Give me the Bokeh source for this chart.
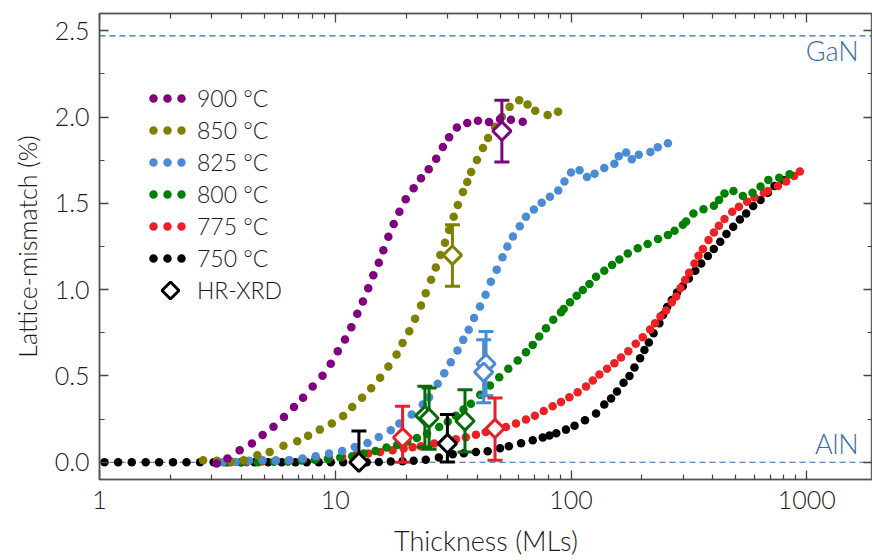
import math
from bokeh.plotting import figure
from bokeh.models import (Range1d, LogAxis, LinearAxis, FixedTicker, Span, Label,
                          Legend, LegendItem, PrintfTickFormatter, NumeralTickFormatter,
                          CustomJSTickFormatter)
from bokeh.embed import file_html
from bokeh.resources import INLINE

FONT = "Lato Light, Lato"

# ---------------- data ----------------
t900 = [3.14, 3.49, 3.93, 4.43, 4.92, 5.47, 6.06, 6.68, 7.3, 8.02, 8.83, 9.57, 10.25, 11.0, 11.7,
        12.4, 13.1, 13.8, 14.5, 15.3, 16.0, 16.8, 17.7, 18.7, 19.9, 21.5, 23.1, 24.9, 26.8, 28.6,
        30.4, 32.8, 36.3, 40.3, 44.9, 50.0, 55.6, 62.4]
m900 = [-0.007, 0.021, 0.069, 0.108, 0.158, 0.206, 0.262, 0.32, 0.374, 0.439, 0.501, 0.571, 0.643,
        0.711, 0.782, 0.86, 0.932, 1.008, 1.083, 1.156, 1.228, 1.306, 1.38, 1.451, 1.524, 1.588,
        1.646, 1.698, 1.759, 1.827, 1.883, 1.94, 1.965, 1.979, 1.971, 1.988, 1.984, 1.973]

t850 = [2.75, 3.15, 3.6, 4.09, 4.67, 5.27, 6.03, 6.9, 7.67, 8.6, 9.67, 10.8, 11.8, 13.0, 14.2, 15.5,
        16.8, 18.2, 19.3, 20.6, 21.8, 23.1, 24.2, 25.5, 26.7, 27.9, 29.2, 30.4, 31.8, 33.1, 34.8,
        36.3, 37.7, 39.9, 42.3, 44.5, 47.6, 50.9, 54.9, 60.3, 65.4, 70.5, 79.6, 88.1]
m850 = [0.012, 0.008, 0.006, 0.012, 0.04, 0.06, 0.095, 0.121, 0.154, 0.189, 0.224, 0.268, 0.32,
        0.374, 0.429, 0.49, 0.555, 0.624, 0.691, 0.759, 0.831, 0.908, 0.979, 1.058, 1.129, 1.201,
        1.272, 1.345, 1.422, 1.49, 1.566, 1.624, 1.682, 1.751, 1.821, 1.879, 1.944, 2.002, 2.059,
        2.097, 2.073, 2.036, 2.012, 2.031]

t825 = [3.32, 3.78, 4.31, 4.91, 5.59, 6.37, 7.26, 8.26, 9.41, 10.7, 12.1, 13.7, 15.3, 17.2, 18.7,
        21.1, 23.5, 25.0, 27.2, 29.0, 30.9, 33.0, 34.9, 36.8, 38.8, 41.1, 43.4, 45.7, 48.4, 51.2,
        53.7, 56.7, 60.6, 64.4, 69.6, 75.1, 81.4, 88.3, 93.8, 100.0, 108.7, 116.9, 125.9, 138.4,
        152.7, 159.4, 171.3, 181.1, 193.8, 217.1, 233.3, 257.6]
m825 = [0.0, 0.002, 0.008, 0.012, 0.008, 0.012, 0.021, 0.035, 0.05, 0.065, 0.088, 0.112, 0.146,
        0.185, 0.225, 0.277, 0.335, 0.377, 0.455, 0.516, 0.58, 0.647, 0.709, 0.767, 0.836, 0.903,
        0.971, 1.046, 1.116, 1.188, 1.25, 1.308, 1.368, 1.422, 1.464, 1.503, 1.538, 1.575, 1.626,
        1.679, 1.692, 1.653, 1.671, 1.705, 1.73, 1.773, 1.794, 1.755, 1.782, 1.798, 1.825, 1.848]

t800 = [3.4, 4.0, 4.7, 5.5, 6.3, 7.2, 8.2, 9.3, 10.5, 11.8, 13.2, 14.8, 16.5, 18.3, 20.2, 22.2,
        24.5, 27.6, 30.0, 32.5, 35.0, 37.6, 41.2, 45.3, 49.6, 54.2, 59.4, 64.4, 68.8, 73.3, 78.3,
        84.1, 90.7, 93.1, 99.1, 105.7, 112.2, 119.7, 127.7, 138.4, 149.3, 160.4, 174.1, 191.9,
        211.3, 233.9, 257.6, 274.8, 298.0, 307.8, 330.4, 364.7, 403.6, 424.6, 447.7, 488.7,
        535.8, 588.8, 636.8, 687.1, 764.0, 845.0]
m800 = [0.0, 0.0, 0.0, 0.003, 0.005, 0.01, 0.015, 0.019, 0.027, 0.035, 0.05, 0.065, 0.085, 0.1,
        0.12, 0.14, 0.165, 0.204, 0.235, 0.27, 0.305, 0.339, 0.391, 0.445, 0.493, 0.542, 0.59,
        0.638, 0.68, 0.728, 0.776, 0.825, 0.869, 0.888, 0.927, 0.965, 0.998, 1.033, 1.075, 1.11,
        1.143, 1.175, 1.21, 1.24, 1.264, 1.293, 1.316, 1.341, 1.376, 1.395, 1.441, 1.466, 1.486,
        1.52, 1.557, 1.571, 1.542, 1.561, 1.597, 1.636, 1.649, 1.669]

t775 = [3.6, 4.2, 4.9, 5.6, 6.4, 7.3, 8.3, 9.4, 10.7, 12.2, 13.8, 15.5, 17.5, 19.5, 21.3, 23.1,
        26.3, 29.5, 32.5, 35.8, 39.5, 43.5, 48.0, 53.0, 58.4, 64.4, 70.3, 76.6, 83.6, 90.7, 98.4,
        106.7, 115.8, 123.7, 131.9, 142.2, 152.7, 163.0, 175.0, 188.2, 201.5, 216.4, 227.3,
        239.5, 253.0, 267.7, 279.3, 291.3, 304.8, 317.0, 334.0, 347.4, 362.6, 382.9, 403.6,
        423.8, 447.7, 482.9, 515.6, 558.7, 600.0, 658.0, 684.0, 755.0, 818.0, 883.0, 935.0]
m775 = [0.0, 0.0, 0.005, 0.01, 0.01, 0.015, 0.02, 0.025, 0.03, 0.04, 0.05, 0.06, 0.07, 0.08, 0.087,
        0.092, 0.108, 0.12, 0.133, 0.145, 0.16, 0.175, 0.19, 0.204, 0.224, 0.247, 0.27, 0.297,
        0.324, 0.349, 0.377, 0.406, 0.439, 0.474, 0.509, 0.542, 0.574, 0.607, 0.643, 0.686,
        0.724, 0.769, 0.805, 0.844, 0.879, 0.927, 0.961, 1.01, 1.056, 1.098, 1.152, 1.197, 1.235,
        1.287, 1.331, 1.37, 1.409, 1.451, 1.48, 1.51, 1.534, 1.562, 1.572, 1.601, 1.626, 1.659,
        1.684]

t750 = [1.05, 1.20, 1.37, 1.57, 1.79, 2.05, 2.34, 2.67, 3.05, 3.49, 3.98, 4.55, 5.20, 5.93, 6.78,
        7.57, 8.51, 9.57, 10.8, 12.1, 13.6, 15.3, 17.2, 19.3, 21.5, 24.2, 27.5, 31.5, 35.1, 39.5,
        44.3, 50.0, 54.5, 61.4, 68.8, 75.9, 81.0, 86.6, 95.2, 103.5, 114.6, 127.7, 138.4, 147.9,
        156.7, 167.0, 177.0, 185.8, 196.4, 204.8, 213.8, 223.9, 237.1, 245.6, 255.6, 267.7,
        281.8, 298.0, 316.0, 336.5, 356.6, 380.6, 403.3, 429.5, 456.4, 487.5, 520.3, 553.3,
        592.6, 636.8, 684.3, 729.7, 800.0]
m750 = [0.0, 0.0, 0.0, 0.0, 0.0, 0.0, 0.0, 0.0, 0.0, 0.0, 0.0, 0.0, 0.0, 0.0, 0.0,
        0.0, 0.0, 0.0, 0.0, 0.0, 0.0, 0.002, 0.004, 0.006, 0.008, 0.015, 0.027, 0.046, 0.052,
        0.06, 0.064, 0.081, 0.093, 0.11, 0.127, 0.143, 0.155, 0.168, 0.189, 0.211, 0.243, 0.282,
        0.335, 0.37, 0.41, 0.46, 0.50, 0.549, 0.603, 0.65, 0.694, 0.748, 0.805, 0.853, 0.90,
        0.94, 0.984, 1.02, 1.065, 1.11, 1.152, 1.195, 1.235, 1.277, 1.322, 1.364, 1.407, 1.441,
        1.484, 1.52, 1.562, 1.601, 1.634]

# HR-XRD points with error bars
xrd_t = [12.6, 19.3, 24.0, 25.0, 29.9, 35.5, 43.6, 42.6, 47.6, 31.4, 50.9]
xrd_m = [0.0, 0.143, 0.27, 0.255, 0.108, 0.239, 0.571, 0.522, 0.195, 1.2, 1.919]
xrd_lo = [0.0, 0.0, 0.088, 0.075, 0.002, 0.06, 0.385, 0.345, 0.012, 1.019, 1.74]
xrd_hi = [0.181, 0.324, 0.441, 0.43, 0.277, 0.42, 0.757, 0.71, 0.372, 1.376, 2.098]
xrd_series = ["750", "775", "800", "800", "750", "800", "825", "825", "775", "850", "900"]

legend_labels = ["900 °C", "850 °C", "825 °C", "800 °C", "775 °C", "750 °C"]
gan_mismatch = 2.47
aln_mismatch = 0.0

# ---------------- styles ----------------
dot_color = {"900": "#800080", "850": "#808000", "825": "#4a8bd5",
             "800": "#008000", "775": "#ee2024", "750": "#000000"}
bar_color = {"900": "#800080", "850": "#808000", "825": "#4a8bd5",
             "800": "#0a6a0a", "775": "#e8202a", "750": "#000000"}

p = figure(width=872, height=560, x_axis_type="log",
           x_range=Range1d(1, 1900), y_range=Range1d(-0.1, 2.6),
           output_backend="svg", toolbar_location=None,
           min_border_left=99, min_border_right=0, min_border_top=13, min_border_bottom=81,
           background_fill_color="white", border_fill_color="white",
           outline_line_color="#666666", outline_line_width=1.5)
p.grid.visible = False

for lvl in (gan_mismatch, aln_mismatch):
    p.add_layout(Span(location=lvl, dimension="width", line_color="#2f66a0",
                      line_dash="6 4", line_width=1.2, level="underlay"))

series = [("750", t750, m750), ("775", t775, m775), ("800", t800, m800),
          ("825", t825, m825), ("850", t850, m850), ("900", t900, m900)]
for key, tx, my in series:
    p.scatter(tx, my, size=8.5, fill_color=dot_color[key], line_color=None)

# error bars
for i in range(len(xrd_t)):
    c = bar_color[xrd_series[i]]
    p.segment(x0=[xrd_t[i]], y0=[xrd_lo[i]], x1=[xrd_t[i]], y1=[xrd_hi[i]],
              line_color=c, line_width=3)
    p.scatter([xrd_t[i], xrd_t[i]], [xrd_lo[i], xrd_hi[i]], marker="dash", size=15,
              line_color=c, line_width=3)
for i in range(len(xrd_t)):
    c = bar_color[xrd_series[i]]
    p.scatter([xrd_t[i]], [xrd_m[i]], marker="square", angle=math.pi / 4, size=13,
              line_color=c, line_width=3, fill_color="white")

# ---------------- axes ----------------
x_major = [1, 10, 100, 1000]
x_minor = [m * d for d in (1, 10, 100, 1000) for m in range(2, 10)]
y_major = [0.0, 0.5, 1.0, 1.5, 2.0, 2.5]
y_minor = [0.25, 0.75, 1.25, 1.75, 2.25]

def style(ax):
    ax.axis_line_color = "#555555"
    ax.axis_line_width = 1.5
    ax.major_tick_line_color = "#444444"
    ax.minor_tick_line_color = "#444444"
    ax.major_tick_line_width = 1.3
    ax.minor_tick_line_width = 1.2
    ax.major_tick_in = 9
    ax.major_tick_out = 0
    ax.minor_tick_in = 5
    ax.minor_tick_out = 0
    ax.major_label_text_font = FONT
    ax.major_label_text_font_size = "25px"
    ax.major_label_text_color = "#1a1a1a"
    ax.axis_label_text_font = FONT
    ax.axis_label_text_font_style = "normal"
    ax.axis_label_text_color = "#1a1a1a"

xa = p.xaxis[0]
xa.ticker = FixedTicker(ticks=x_major, minor_ticks=x_minor)
xa.formatter = NumeralTickFormatter(format="0")
style(xa)
xa.axis_label = "Thickness (MLs)"
xa.axis_label_text_font_size = "27px"
xa.major_label_standoff = 11
xa.axis_label_standoff = 12

ya = p.yaxis[0]
ya.ticker = FixedTicker(ticks=y_major, minor_ticks=y_minor)
ya.formatter = PrintfTickFormatter(format="%.1f")
style(ya)
ya.axis_label = "Lattice-mismatch (%)"
ya.axis_label_text_font_size = "25px"
ya.major_label_standoff = 10
ya.axis_label_standoff = 10

blank = CustomJSTickFormatter(code="return ''")
top = LogAxis(ticker=FixedTicker(ticks=x_major, minor_ticks=x_minor), formatter=blank)
style(top)
top.major_label_standoff = 0
p.add_layout(top, "above")
right = LinearAxis(ticker=FixedTicker(ticks=y_major, minor_ticks=y_minor), formatter=blank)
style(right)
right.major_label_standoff = 0
p.add_layout(right, "right")

# ---------------- labels ----------------
p.add_layout(Label(x=1660, y=2.386, text="GaN", text_align="right", text_baseline="middle",
                   text_font=FONT, text_font_size="27px", text_color="#3a6d9c"))
p.add_layout(Label(x=1660, y=0.11, text="AlN", text_align="right", text_baseline="middle",
                   text_font=FONT, text_font_size="27px", text_color="#3a6d9c"))

# ---------------- legend ----------------
nan = float("nan")
items = []
for lab, key in zip(legend_labels, ["900", "850", "825", "800", "775", "750"]):
    r = p.line(x=[nan], y=[nan], line_color=dot_color[key], line_width=8.5, line_dash="0 14",
               line_dash_offset=10, line_cap="round")
    items.append(LegendItem(label=lab, renderers=[r]))
rx = p.line(x=[nan], y=[nan], line_alpha=0)
items.append(LegendItem(label="HR-XRD", renderers=[rx]))
leg = Legend(items=items, location=(50, 175), orientation="vertical",
             glyph_width=38, glyph_height=26, label_height=26, spacing=4,
             label_standoff=10, padding=0, margin=0,
             border_line_color=None, background_fill_color=None,
             label_text_font=FONT, label_text_font_size="23px", label_text_color="#1a1a1a")
p.add_layout(leg)

# legend symbol for HR-XRD (open diamond), placed beside its legend label
legend_diamond_t = [2.0]
legend_diamond_m = [0.995]
p.scatter(legend_diamond_t, legend_diamond_m, marker="square", angle=math.pi / 4, size=12,
          line_color="black", line_width=3, fill_color="white")

open("out.html", "w").write(file_html(p, INLINE))
